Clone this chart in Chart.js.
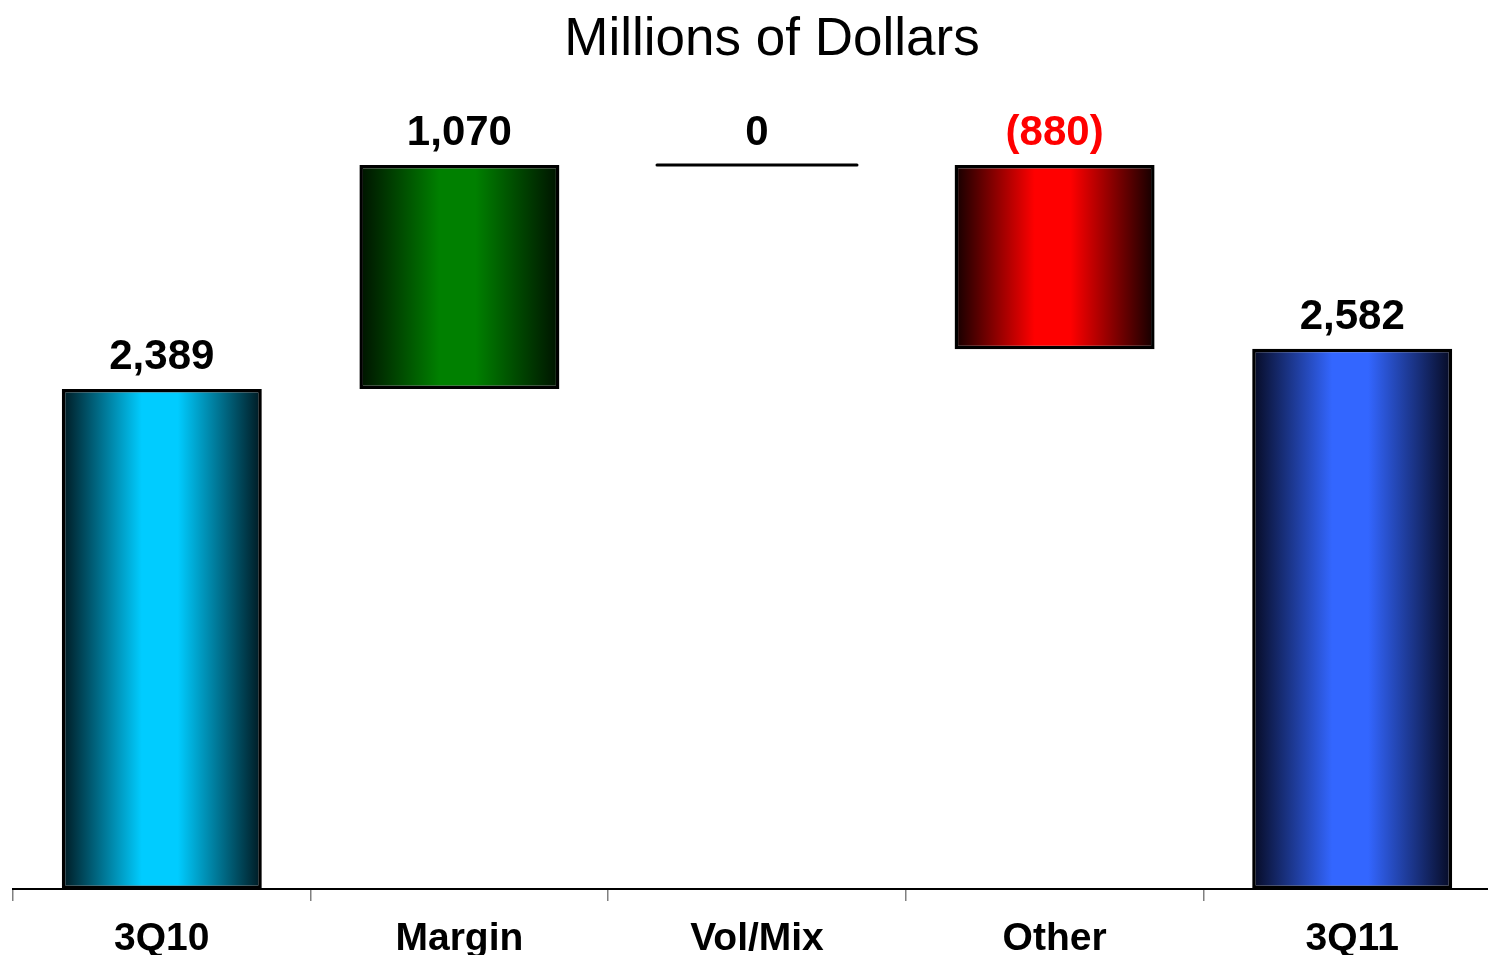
<!DOCTYPE html>
<html>
<head>
<meta charset="utf-8">
<script src="https://cdn.jsdelivr.net/npm/chart.js@4.4.1/dist/chart.umd.min.js"></script>
<style>
  html, body { margin: 0; padding: 0; background: #fff; overflow: hidden; width: 1488px; height: 955px; }
  #wrap { position: absolute; left: 0; top: 0; width: 1501px; height: 955px; }
</style>
</head>
<body>
<div id="wrap"><canvas id="c" width="1501" height="955"></canvas></div>
<script>
// Waterfall: opening total, changes, closing total (millions of dollars)
const categories = ['3Q10', 'Margin', 'Vol/Mix', 'Other', '3Q11'];
const changes    = [2389, 1070, 0, -880, 2582];
const isTotal    = [true, false, false, false, true];
const centerColors = ['#00CCFF', '#008000', '#000000', '#FF0000', '#3366FF'];
const edgeColors   = ['#001820', '#001200', '#000000', '#120000', '#060a22'];
const titleText = 'Millions of Dollars';

// Floating ranges built from the running total
let running = 0;
const ranges = changes.map((v, i) => {
  if (isTotal[i]) { running = v; return [0, v]; }
  const start = running;
  running += v;
  return [start, running];
});

const FONT = '"Liberation Sans", Arial, sans-serif';
const BAR_FRACTION = 0.672;

function fmt(n) {
  return Math.abs(n).toString().replace(/\B(?=(\d{3})+(?!\d))/g, ',');
}

function barFill(ctx) {
  const chart = ctx.chart;
  const i = ctx.dataIndex;
  const xs = chart.scales.x;
  if (!xs || !xs.width) return centerColors[i];
  const cx = xs.getPixelForValue(i);
  const half = xs.width / categories.length * BAR_FRACTION / 2;
  const g = chart.ctx.createLinearGradient(cx - half, 0, cx + half, 0);
  g.addColorStop(0, edgeColors[i]);
  g.addColorStop(0.4, centerColors[i]);
  g.addColorStop(0.58, centerColors[i]);
  g.addColorStop(1, edgeColors[i]);
  return g;
}

// Title, zero-change marker and value labels
const annotate = {
  id: 'annotate',
  afterDatasetsDraw(chart) {
    const c = chart.ctx;
    const ys = chart.scales.y;
    const meta = chart.getDatasetMeta(0);
    c.save();
    c.textAlign = 'center';
    c.textBaseline = 'alphabetic';
    c.fillStyle = '#000';
    c.font = '53px ' + FONT;
    c.fillText(titleText, 772, 55);

    meta.data.forEach((el, i) => {
      const v = changes[i];
      const top = Math.min(ys.getPixelForValue(ranges[i][0]), ys.getPixelForValue(ranges[i][1]));
      if (v === 0) {
        c.beginPath();
        c.lineWidth = 3;
        c.lineCap = 'round';
        c.strokeStyle = '#000';
        c.moveTo(el.x - el.width / 2, top);
        c.lineTo(el.x + el.width / 2, top);
        c.stroke();
      }
      c.font = 'bold 42px ' + FONT;
      c.fillStyle = v < 0 ? '#FF0000' : '#000';
      const txt = v < 0 ? '(' + fmt(v) + ')' : fmt(v);
      c.fillText(txt, el.x, top - 20);
    });
    c.restore();
  }
};

new Chart(document.getElementById('c'), {
  type: 'bar',
  data: {
    labels: categories,
    datasets: [{
      data: ranges,
      backgroundColor: barFill,
      borderColor: '#000',
      borderWidth: ctx => (changes[ctx.dataIndex] === 0 ? 0 : 3.5),
      borderSkipped: false,
      categoryPercentage: 1,
      barPercentage: BAR_FRACTION
    }]
  },
  options: {
    responsive: false,
    animation: false,
    devicePixelRatio: 1,
    layout: { padding: { top: 100, left: 13, right: 0, bottom: 0 } },
    plugins: { legend: { display: false }, title: { display: false }, tooltip: { enabled: false } },
    scales: {
      x: {
        offset: true,
        grid: { offset: true, drawOnChartArea: false, drawTicks: true, tickLength: 12, color: '#808080', lineWidth: 1.5 },
        border: { display: true, color: '#000', width: 2 },
        ticks: { color: '#000', font: { family: FONT, size: 39, weight: 'bold' }, padding: 15, maxRotation: 0, autoSkip: false },
        afterFit: s => { s.height = 66; }
      },
      y: { display: false, min: 0, max: 3770 }
    }
  },
  plugins: [annotate]
});
</script>
</body>
</html>
